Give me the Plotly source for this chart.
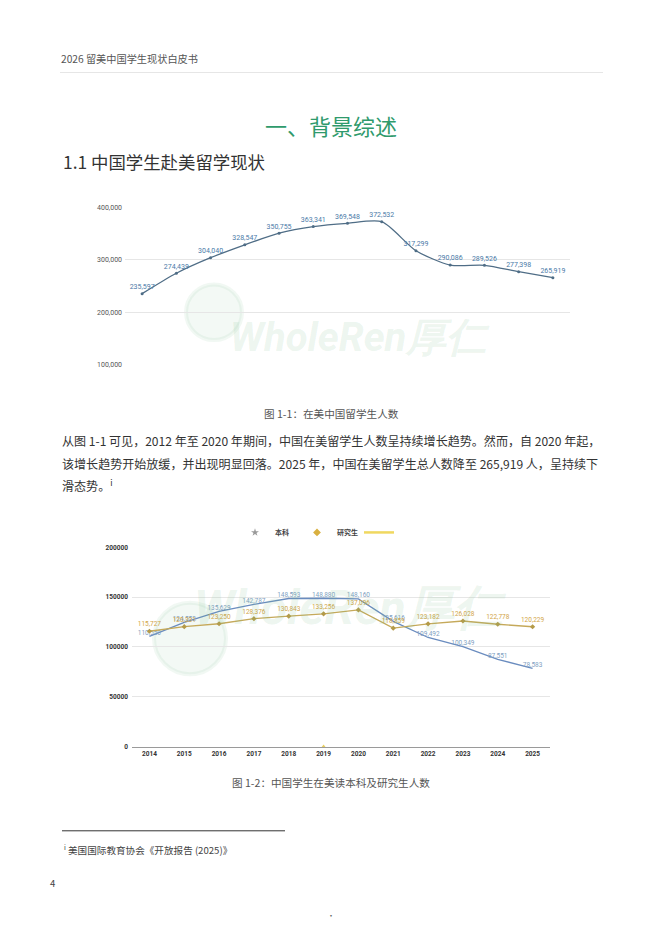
import plotly.graph_objects as go

# ---------------- data ----------------
years1 = [2013, 2014, 2015, 2016, 2017, 2018, 2019, 2020, 2021, 2022, 2023, 2024, 2025]
total_students = [235597, 274439, 304040, 328547, 350755, 363341, 369548,
                  372532, 317299, 290086, 289526, 277398, 265919]

years2 = [2014, 2015, 2016, 2017, 2018, 2019, 2020, 2021, 2022, 2023, 2024, 2025]
undergrad = [110550, 124552, 135629, 142787, 148593, 148880, 148160,
             125616, 109492, 100349, 87551, 78583]
graduate = [115727, 120331, 123250, 128376, 130843, 133256, 137096,
            118859, 123182, 126028, 122778, 120229]
other_years = [2019]
other_vals = [0]

y1_ticks = [100000, 200000, 300000, 400000]
y2_ticks = [0, 50000, 100000, 150000, 200000]

name_ug = "本科"
name_gr = "研究生"
name_other = " "

# page geometry (browser body has an 8px margin)
OFF = 8
FW, FH = 646, 919


def px(p):
    return (p - OFF) / FW


def py(p):
    return 1 - (p - OFF) / FH


CJK = "Noto Sans CJK SC"

fig = go.Figure()

# chart 1
fig.add_trace(go.Scatter(
    x=years1, y=total_students, mode="lines+markers+text",
    line=dict(color="#4f6d86", width=1.3, shape="spline", smoothing=0.7),
    marker=dict(size=3, color="#4f6d86"),
    text=[f"{v:,}" for v in total_students], textposition="top center",
    textfont=dict(size=7, color="#4a7aa8", family="Roboto"),
    cliponaxis=False, showlegend=False, hoverinfo="skip",
    xaxis="x", yaxis="y"))

# chart 2
ug_col = "#6a8cbf"
gr_col = "#c5a95a"
fig.add_trace(go.Scatter(
    x=years2, y=undergrad, mode="lines+text",
    line=dict(color=ug_col, width=1.3),
    text=[f"{v:,}" for v in undergrad], textposition="top center",
    textfont=dict(size=6.5, color="#7f9fc2", family="Roboto"),
    cliponaxis=False, showlegend=False, hoverinfo="skip",
    xaxis="x2", yaxis="y2"))
fig.add_trace(go.Scatter(
    x=years2, y=graduate, mode="lines+markers+text",
    line=dict(color=gr_col, width=1.3),
    marker=dict(symbol="diamond", size=4, color="#b49a48"),
    text=[f"{v:,}" for v in graduate], textposition="top center",
    textfont=dict(size=6.5, color="#d2a548", family="Roboto"),
    cliponaxis=False, showlegend=False, hoverinfo="skip",
    xaxis="x2", yaxis="y2"))
fig.add_trace(go.Scatter(
    x=other_years, y=other_vals, mode="markers",
    marker=dict(symbol="triangle-up", size=4, color="#e8cf60"),
    cliponaxis=False, showlegend=False, hoverinfo="skip",
    xaxis="x2", yaxis="y2"))

# legend-only entries
fig.add_trace(go.Scatter(x=[None], y=[None], mode="markers", name=name_ug,
                         marker=dict(symbol="star", size=6, color="#9a9a9a"),
                         xaxis="x2", yaxis="y2"))
fig.add_trace(go.Scatter(x=[None], y=[None], mode="markers", name=name_gr,
                         marker=dict(symbol="diamond", size=6, color="#d9b040"),
                         xaxis="x2", yaxis="y2"))
fig.add_trace(go.Scatter(x=[None], y=[None], mode="lines", name=name_other,
                         line=dict(color="#f0d860", width=2.5),
                         xaxis="x2", yaxis="y2"))

grid = "#e6e6e6"
fig.update_layout(
    width=FW, height=FH, margin=dict(l=0, r=0, t=0, b=0),
    paper_bgcolor="white", plot_bgcolor="white",
    font=dict(family=CJK, color="#333"),
    xaxis=dict(domain=[px(125), px(570)], range=[2012.5, 2025.5],
               showticklabels=False, showgrid=False, zeroline=False,
               anchor="y", fixedrange=True),
    yaxis=dict(domain=[py(364), py(205)], range=[100000, 400000],
               tickvals=y1_ticks, tickformat=",", showgrid=True, gridcolor=grid,
               zeroline=False, tickfont=dict(size=7, color="#555", family="Roboto"),
               anchor="x", ticklabelstandoff=2),
    xaxis2=dict(domain=[px(132), px(550)], range=[2013.5, 2025.5],
                tickvals=years2, showgrid=False, zeroline=False,
                showline=True, linecolor="#9a9a9a", linewidth=1,
                tickfont=dict(size=6.5, color="#333", family="Roboto", weight="bold"),
                anchor="y2", ticklabelstandoff=1),
    yaxis2=dict(domain=[py(749), py(548)], range=[0, 200000],
                tickvals=y2_ticks, tickformat="d", showgrid=True, gridcolor=grid,
                zeroline=False,
                tickfont=dict(size=6.5, color="#333", family="Roboto", weight="bold"),
                anchor="x2", ticklabelstandoff=3),
    legend=dict(orientation="h", x=px(328), xanchor="center", y=py(533), yanchor="middle",
                font=dict(size=7, color="#444", family=CJK, weight="bold"),
                itemwidth=30, entrywidth=17, entrywidthmode="pixels",
                bgcolor="rgba(0,0,0,0)"),
)

# watermarks
wm_col = "rgba(120,190,140,0.15)"
for cx, cy, r, tx, ty, fs in [(214, 311, 28, 360, 311, 40), (190, 640, 36, 350, 640, 48)]:
    fig.add_shape(type="circle", xref="paper", yref="paper",
                  x0=px(cx - r), x1=px(cx + r), y0=py(cy + r), y1=py(cy - r),
                  line=dict(color="rgba(120,190,140,0.10)", width=4),
                  fillcolor="rgba(140,200,155,0.10)", layer="below")
    fig.add_annotation(x=px(tx), y=py(ty), xref="paper", yref="paper",
                       text="<b><i>WholeRen厚仁</i></b>", showarrow=False,
                       font=dict(size=fs, color=wm_col, family="Roboto"))

# document text
def txt(x, y, s, size, color="#333", anchor="left", family=CJK):
    fig.add_annotation(x=px(x), y=py(y), xref="paper", yref="paper", text=s,
                       showarrow=False, xanchor=anchor, yanchor="middle",
                       font=dict(size=size, color=color, family=family))

txt(59, 55, "2026 留美中国学生现状白皮书", 10.2, "#555")
fig.add_shape(type="line", xref="paper", yref="paper", x0=px(60), x1=px(603),
              y0=py(69), y1=py(69), line=dict(color="#e6e6e6", width=1))
txt(331, 122, "一、背景综述", 22, "#2f9a6c", "center")
txt(61, 159, "1.1 中国学生赴美留学现状", 17.4, "#333")
txt(331, 413, "图 1-1：在美中国留学生人数", 10.6, "#555", "center")
txt(60, 440, "从图 1-1 可见，2012 年至 2020 年期间，中国在美留学生人数呈持续增长趋势。然而，自 2020 年起，", 12.05)
txt(60, 463, "该增长趋势开始放缓，并出现明显回落。2025 年，中国在美留学生总人数降至 265,919 人，呈持续下", 12.05)
txt(60, 485, "滑态势。<sup>i</sup>", 12.05)
txt(331, 785, "图 1-2：中国学生在美读本科及研究生人数", 10.6, "#555", "center")
fig.add_shape(type="line", xref="paper", yref="paper", x0=px(62), x1=px(285),
              y0=py(834), y1=py(834), line=dict(color="#333", width=1))
txt(62, 853, "<sup>i</sup> 美国国际教育协会《开放报告 (2025)》", 9.6, "#444")
txt(48, 887, "4", 9.5, "#444")
fig.add_annotation(x=px(331), y=0, xref="paper", yref="paper", text="·",
                   showarrow=False, xanchor="center", yanchor="bottom",
                   font=dict(size=8, color="#666"))

fig.write_html("out.html")
